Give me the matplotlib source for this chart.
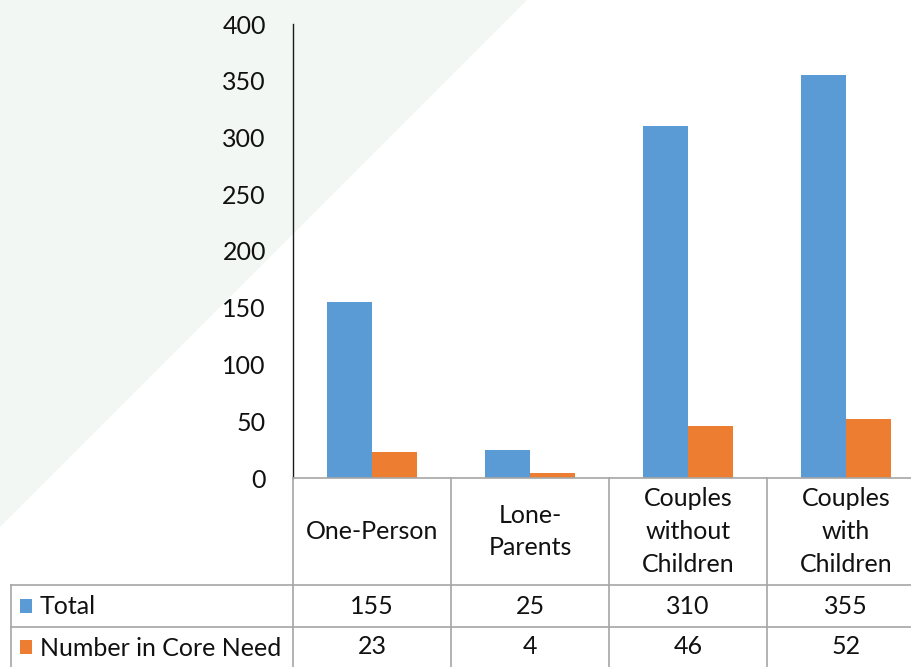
import matplotlib
matplotlib.use("Agg")
import matplotlib.pyplot as plt
from matplotlib.patches import Polygon, Rectangle
from matplotlib.lines import Line2D

categories = ["One-Person", "Lone-\nParents", "Couples\nwithout\nChildren", "Couples\nwith\nChildren"]
series_names = ["Total", "Number in Core Need"]
total = [155, 25, 310, 355]
core_need = [23, 4, 46, 52]
y_ticks = [0, 50, 100, 150, 200, 250, 300, 350, 400]

colors = ["#5b9bd5", "#ed7d31"]
W, H = 912, 667
FONT = ["Lato", "DejaVu Sans"]
FS = 18

fig = plt.figure(figsize=(W / 100, H / 100), dpi=100)
fig.patch.set_facecolor("white")

def fx(px):
    return px / W

def fy(py):
    return 1 - py / H

# Decorative green corner
bg = fig.add_axes([0, 0, 1, 1], zorder=0)
bg.set_xlim(0, W)
bg.set_ylim(H, 0)
bg.axis("off")
bg.add_patch(Polygon([(0, 0), (527, 0), (0, 527)], closed=True,
                     facecolor="#f2f7f3", edgecolor="none"))

# Plot area
x0, x1 = 293, 925
y_top, y_zero = 24, 478
ax = fig.add_axes([fx(x0), fy(y_zero), fx(x1 - x0), (y_zero - y_top) / H], zorder=1)
ax.patch.set_alpha(0)
n = len(categories)
ax.set_xlim(0, n)
ax.set_ylim(0, 400)
bw = 0.285
xs = [i + 0.5 for i in range(n)]
ax.bar([x - bw / 2 for x in xs], total, width=bw, color=colors[0], zorder=2)
ax.bar([x + bw / 2 for x in xs], core_need, width=bw, color=colors[1], zorder=2)

for s in ["top", "right"]:
    ax.spines[s].set_visible(False)
ax.spines["left"].set_color("#1a1a1a")
ax.spines["left"].set_linewidth(1.0)
ax.spines["bottom"].set_color("#a6a6a6")
ax.spines["bottom"].set_linewidth(1.2)
ax.set_xticks([])
ax.set_yticks(y_ticks)
ax.tick_params(axis="y", length=0, pad=19.5, labelsize=FS)
for lab in ax.get_yticklabels():
    lab.set_fontfamily(FONT)
    lab.set_color("#111111")

# Data table below the axis
tb = fig.add_axes([0, 0, 1, 1], zorder=2)
tb.set_xlim(0, W)
tb.set_ylim(H, 0)
tb.axis("off")
grid = "#a6a6a6"
cw = (x1 - x0) / n
row_top, row1, row2, row_bot = y_zero, 585, 627, 672
table_left = 11

def hline(y, xa, xb):
    tb.add_line(Line2D([xa, xb], [y, y], color=grid, lw=1.2))

def vline(x, ya, yb):
    tb.add_line(Line2D([x, x], [ya, yb], color=grid, lw=1.2))

hline(row1, table_left, x1)
hline(row2, table_left, x1)
vline(table_left, row1, row_bot)
for i in range(n + 1):
    vline(x0 + i * cw, row_top, row_bot)

for i, cat in enumerate(categories):
    cx = x0 + (i + 0.5) * cw
    tb.text(cx, (row_top + row1) / 2, cat, ha="center", va="center",
            fontsize=FS, family=FONT, color="#111111", linespacing=1.5)
    tb.text(cx, (row1 + row2) / 2 + 1, str(total[i]), ha="center", va="center",
            fontsize=FS, family=FONT, color="#111111")
    tb.text(cx, (row2 + row_bot) / 2 - 3, str(core_need[i]), ha="center", va="center",
            fontsize=FS, family=FONT, color="#111111")

for name, col, (ya, yb) in zip(series_names, colors, [(row1, row2), (row2, row_bot - 5)]):
    ym = (ya + yb) / 2
    tb.add_patch(Rectangle((20, ym - 7), 12, 14, facecolor=col, edgecolor="none"))
    tb.text(40, ym + 1, name, ha="left", va="center", fontsize=FS, family=FONT,
            color="#111111")

fig.savefig("out.png", dpi=100)
